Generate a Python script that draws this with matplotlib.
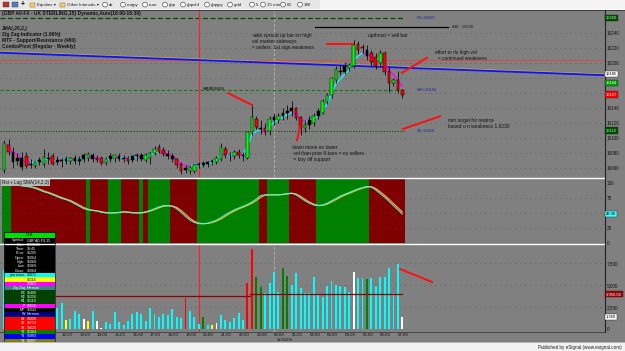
import numpy as np
import matplotlib.pyplot as plt
import matplotlib.transforms as mtransforms
from matplotlib.patches import Rectangle, Circle
from matplotlib.collections import LineCollection

plt.rcParams['font.family'] = ['Liberation Sans', 'DejaVu Sans']

# 15 min bars, GBP A0-FX, 12/30/09 08:45 -> 12/31/09 07:15 (hours relative to 00:00 12/31)
first_bar_hour = -15.25
opens = [16058, 16091, 16082, 16070, 16074, 16076, 16064, 16063, 16068, 16066,
         16074, 16076, 16068, 16071, 16070, 16070, 16073, 16070, 16072, 16074,
         16078, 16074, 16074, 16067, 16072, 16074, 16076, 16072, 16074, 16071,
         16076, 16078, 16071, 16074, 16080, 16088, 16084, 16079, 16076, 16072,
         16066, 16058, 16056, 16056, 16064, 16064, 16066, 16068, 16068, 16072,
         16086, 16077, 16076, 16082, 16078, 16074, 16108, 16126, 16114, 16114,
         16110, 16124, 16124, 16130, 16134, 16136, 16140, 16128, 16114, 16118,
         16120, 16130, 16134, 16148, 16157, 16178, 16190, 16188, 16194, 16196,
         16226, 16222, 16218, 16214, 16208, 16200, 16214, 16190, 16174, 16178,
         16164]
highs = [16097, 16099, 16088, 16080, 16082, 16082, 16072, 16070, 16075, 16085,
         16081, 16080, 16076, 16074, 16076, 16075, 16078, 16076, 16080, 16082,
         16080, 16078, 16076, 16075, 16080, 16078, 16080, 16078, 16076, 16078,
         16080, 16080, 16080, 16082, 16090, 16092, 16088, 16084, 16080, 16074,
         16068, 16064, 16064, 16066, 16068, 16070, 16070, 16072, 16076, 16094,
         16090, 16082, 16084, 16086, 16082, 16108, 16145, 16130, 16124, 16120,
         16130, 16134, 16134, 16140, 16144, 16150, 16142, 16130, 16124, 16130,
         16134, 16140, 16152, 16160, 16182, 16196, 16198, 16202, 16200, 16231,
         16230, 16226, 16224, 16218, 16214, 16218, 16216, 16196, 16180, 16190,
         16166]
lows = [16054, 16077, 16060, 16064, 16058, 16060, 16060, 16060, 16064, 16062,
        16066, 16064, 16064, 16062, 16066, 16066, 16066, 16064, 16068, 16070,
        16068, 16068, 16064, 16064, 16068, 16068, 16070, 16068, 16066, 16068,
        16070, 16070, 16068, 16066, 16078, 16080, 16076, 16072, 16068, 16060,
        16052, 16054, 16052, 16053, 16060, 16062, 16062, 16064, 16066, 16070,
        16074, 16070, 16072, 16074, 16070, 16072, 16104, 16112, 16106, 16104,
        16104, 16118, 16120, 16124, 16126, 16130, 16124, 16104, 16108, 16112,
        16116, 16126, 16132, 16146, 16154, 16174, 16184, 16186, 16190, 16194,
        16212, 16214, 16204, 16196, 16192, 16196, 16184, 16161, 16170, 16160,
        16153]
closes = [16093, 16082, 16068, 16074, 16062, 16063, 16066, 16068, 16071, 16075,
          16072, 16066, 16071, 16070, 16072, 16073, 16070, 16072, 16077, 16079,
          16072, 16071, 16067, 16072, 16076, 16077, 16072, 16074, 16070, 16076,
          16078, 16072, 16078, 16080, 16086, 16082, 16079, 16076, 16072, 16064,
          16056, 16060, 16062, 16064, 16064, 16067, 16068, 16070, 16074, 16088,
          16077, 16078, 16081, 16078, 16076, 16108, 16128, 16115, 16112, 16108,
          16126, 16128, 16130, 16134, 16136, 16140, 16127, 16114, 16118, 16124,
          16130, 16136, 16150, 16157, 16180, 16192, 16188, 16196, 16197, 16224,
          16218, 16220, 16210, 16202, 16196, 16214, 16188, 16174, 16178, 16164,
          16157]
candle_codes = ("grkkkrkgkg" "krkkkgkkkg" "krrgkgkkrk" "kkgggrrkkr" "rkggkkkkgg"
                "rkgrkggrkr" "gkgkkkrrgk" "gkggggkkgg" "rrkrrgrrgr" "r")

volumes = [6700, 3800, 2900, 2400, 2100, 2600, 1800, 1500, 2200, 2700,
           1900, 1600, 2400, 2950, 1000, 1150, 2050, 1700, 1150, 900,
           2050, 900, 100, 800, 570, 1930, 800, 450, 900, 1700,
           1930, 1700, 900, 2400, 1700, 1360, 1700, 1600, 2270, 1360,
           1250, 3520, 2050, 1360, 570, 1360, 450, 450, 680, 1590,
           1020, 800, 1250, 1820, 1020, 5230, 9090, 5910, 4770, 4090,
           5230, 6480, 4200, 6930, 6020, 5000, 6360, 4660, 4090, 4090,
           5910, 3860, 3640, 4890, 5450, 5000, 4890, 4770, 4200, 6480,
           5800, 5800, 5680, 5800, 4890, 5910, 5910, 6930, 4090, 7390,
           1360]
volume_codes = ("cccccccccc" "ccccycccwy" "cwwccccccc" "cccccccccc" "crcccgcywc"
                "cccccrrggc" "cccggccccc" "cccccccccw" "ccgccccccc" "w")
vol_avg_levels = [3750, 3950]      # session average before / after the break bar
vol_avg_break = 56

osc = [99, 98, 97, 96, 95, 94, 93, 91, 88, 85,
       83, 80, 77, 74, 72, 69, 65, 61, 57, 55,
       54, 53, 51, 50, 50, 50, 51, 52, 51, 50,
       50, 50, 52, 54, 57, 60, 62, 62, 61, 57,
       51, 44, 38, 34, 32, 32, 33, 35, 38, 42,
       47, 51, 55, 58, 61, 64, 68, 73, 79, 80,
       80, 80, 80, 81, 82, 83, 80, 75, 70, 66,
       63, 62, 63, 66, 70, 74, 78, 81, 84, 87,
       90, 92, 94, 93, 88, 82, 76, 69, 62, 55,
       48]
osc_bands = ("ggrrrrrrrr" "rrrrrrrrrg" "rrrrgggrrr" "rgrgggggrr" "rrrrgggggg"
             "ggggggggrr" "gggggrrrrr" "rggggggggg" "gggrrrrrrr" "r")

# levels
r3_level = 16260
abi_level = 16248
w_level = 16164
s1_level = 16110
red_level = 16204
pivot_line = [16215, 16185]          # ComboPivot at left / right edge
cursor_bar = 44                      # 19:45 cursor
time_ticks = list(range(-13, 8))

W, H = 625, 351
fig = plt.figure(figsize=(W / 100, H / 100), dpi=100)
fig.patch.set_facecolor('#808080')
GRAY = '#808080'


def px_axes(x0, y0, x1, y1, **kw):
    return fig.add_axes([x0 / W, 1 - y1 / H, (x1 - x0) / W, (y1 - y0) / H], **kw)


def hx(x):
    # pixel column -> hour
    return (x - 274) / 17.7


hours = first_bar_hour + 0.25 * np.arange(len(closes))
xl = (hx(0), hx(604))
fs = 3.5

# ---------------- price panel ----------------
ax = px_axes(0, 10, 604, 177)
ax.set_facecolor(GRAY)
ax.set_xlim(*xl)
ax.set_ylim(16048, 16270.7)
for s in ax.spines.values():
    s.set_visible(False)
ax.set_xticks([])
ax.yaxis.tick_right()
pticks = list(range(16060, 16241, 20))
# 16160 / 16180 sit under the price boxes, so no label there
ax.set_yticks(pticks)
ax.set_yticklabels(['' if p in (16160, 16180) else str(p) for p in pticks])
ax.tick_params(axis='y', length=0, pad=2, labelsize=3.3, labelcolor='#101010')
for p in pticks:
    ax.axhline(p, color='#505050', lw=0.6, ls=(0, (1, 5)), zorder=0)

ax.axhline(red_level, color='#d05050', lw=0.8, zorder=1)
ax.plot(xl, pivot_line, color='#c8b040', lw=1.0, zorder=2)
ax.plot(xl, [pivot_line[0] - 1.2, pivot_line[1] - 1.2], color='#1010ff', lw=1.3, zorder=2)
ax.plot([xl[0], hx(405)], [r3_level] * 2, color='#004d00', lw=0.9, ls=(0, (4, 2)), zorder=1)
ax.plot([hx(315), hx(448)], [abi_level] * 2, color='black', lw=0.9, zorder=1)
ax.plot([xl[0], hx(398)], [w_level] * 2, color='#008000', lw=0.8, ls=(0, (3, 2)), zorder=1)
ax.plot([xl[0], hx(405)], [s1_level] * 2, color='#004d00', lw=0.8, ls=(0, (1, 1.5)), zorder=1)
ax.text(hx(417), r3_level, f"R3={r3_level}", fontsize=2.9, color='#2020a0', va='center')
ax.text(hx(452), abi_level, f"ABI : {abi_level}", fontsize=2.9, color='#202020', va='center')
ax.text(hx(417), w_level, f"WH={w_level}", fontsize=2.9, color='#2020a0', va='center')
ax.text(hx(417), s1_level, f"S1={s1_level}", fontsize=2.9, color='#2020a0', va='center')

ax.axvline(0, color='#b0b0b0', lw=0.7, ls=(0, (3, 2)), zorder=1)
ax.axvline(hours[cursor_bar], color='#ff2020', lw=0.8, zorder=1)

# candles
body_col = {'g': '#00ff00', 'r': '#ff0000', 'k': '#000000'}
o = np.array(opens); c = np.array(closes)
ax.vlines(hours, lows, highs, color='black', lw=0.55, zorder=4)
ax.bar(hours, np.maximum(np.abs(c - o), 0.8), bottom=np.minimum(o, c), width=0.15,
       color=[body_col[k] for k in candle_codes], edgecolor='black', lw=0.35, zorder=5)

# JMA style smoothing line, cyan rising / magenta falling
jma = [closes[0]]
for v in closes[1:]:
    jma.append(jma[-1] + 0.4 * (v - jma[-1]))
jma = np.array(jma)
segs = [[(hours[i], jma[i]), (hours[i + 1], jma[i + 1])] for i in range(len(jma) - 1)]
cols = ['#00ffff' if jma[i + 1] >= jma[i] else '#ff00ff' for i in range(len(jma) - 1)]
ax.add_collection(LineCollection(segs, colors=cols, lw=1.0, zorder=3))

# annotations
red = '#ff1010'
ax.plot([hx(228), hx(252)], [16160, 16144], color=red, lw=1.4, zorder=6)
ax.plot([hx(327), hx(353)], [16225, 16225], color=red, lw=1.4, zorder=6)
ax.plot([hx(297), hx(300)], [16097, 16115], color=red, lw=1.4, zorder=6)
ax.plot([hx(402), hx(427)], [16187, 16207], color=red, lw=1.4, zorder=6)
ax.plot([hx(403), hx(440)], [16112, 16129], color=red, lw=1.4, zorder=6)
ak = dict(fontsize=fs, color='#111111', va='top', ha='left', linespacing=1.25, zorder=7)
ax.text(hx(202), 16170, "weakness", **ak)
ax.text(hx(252), 16240, "wide spread up bar on high\nvol market sideways\n= sellers  1st sign weakness", **ak)
ax.text(hx(368), 16240, "upthrust = sell bar", **ak)
ax.text(hx(435), 16217, "effort to rls high vol\n  = continued weakness", **ak)
ax.text(hx(292), 16091, "down move on lower\n vol than prior 8 bars = no sellers\n = buy off support", **ak)
ax.text(hx(448), 16127, "min target for reatrce\nbased o n weakness 1.6230", **ak)
ax.text(hx(2), 16269, "(GBP A0-FX - UK STERLING,15) Dynamic,Auto(16:00-16:30)",
        fontsize=fs, color='#111111', va='top', weight='bold')
ax.text(hx(2), 16250, "JMA(,20,2,)\nZig Zag Indicator (1.00%)\nMTF - Support/Resistance (480)\n"
        "ComboPivot (Regular - Weekly)", fontsize=fs, color='#111111', va='top',
        weight='bold', linespacing=1.25)

# ---------------- oscillator panel ----------------
ao = px_axes(0, 178, 604, 243)
ao.set_facecolor(GRAY)
ao.set_xlim(*xl)
ao.set_ylim(0, 108)
for s in ao.spines.values():
    s.set_visible(False)
ao.set_xticks([])
ao.yaxis.tick_right()
ao.set_yticks([0, 25, 50, 75, 100])
ao.set_yticklabels(['0', '25', '', '75', '100'])
ao.tick_params(axis='y', length=0, pad=2, labelsize=3.3, labelcolor='#101010')
ao.bar(hours, 108, width=0.25, bottom=0,
       color=['#008000' if b == 'g' else '#800000' for b in osc_bands], zorder=0)
for v in [25, 50, 75]:
    ao.axhline(v, color='#505050', lw=0.6, ls=(0, (1, 5)), zorder=1)
osc_lag = np.convolve(osc, [0.5, 0.5], mode='full')[:len(osc)]
osc_lag[0] = osc[0]
ao.plot(hours, osc_lag, color='#ffb020', lw=0.9, zorder=2)
ao.plot(hours, osc, color='#40ffff', lw=0.7, zorder=3)
ao.text(hx(2), 104, "Rsi + Lag SMA(14,2,3)", fontsize=3.3, color='#111111', va='top',
        bbox=dict(boxstyle='square,pad=0.2', fc='#b8b8b8', ec='none'))

# ---------------- volume panel ----------------
av = px_axes(0, 244, 604, 332)
av.set_facecolor(GRAY)
av.set_xlim(*xl)
av.set_ylim(-341, 9659)
for s in av.spines.values():
    s.set_visible(False)
av.spines['bottom'].set_visible(True)
av.spines['bottom'].set_color('#404040')
av.spines['bottom'].set_linewidth(0.6)
av.yaxis.tick_right()
av.set_yticks([0, 2500, 5000, 7500])
av.set_yticklabels(['0', '2,500', '5,000', '7,500'])
av.tick_params(axis='y', length=0, pad=2, labelsize=3.3, labelcolor='#101010')
for v in [2500, 5000, 7500]:
    av.axhline(v, color='#505050', lw=0.6, ls=(0, (1, 5)), zorder=0)
vcol = {'c': '#00ffff', 'r': '#ff0000', 'g': '#008000', 'w': '#ffffff', 'y': '#ffff00'}
av.bar(hours, volumes, width=0.11, color=[vcol[k] for k in volume_codes], zorder=3)
av.plot([hours[0], hours[vol_avg_break] - 0.12], [vol_avg_levels[0]] * 2, color='#900000', lw=0.9, zorder=4)
av.plot([hours[vol_avg_break] - 0.12, hours[-1]], [vol_avg_levels[1]] * 2, color='#900000', lw=0.9, zorder=4)
av.axvline(0, color='#b0b0b0', lw=0.7, ls=(0, (3, 2)), zorder=1)
av.axvline(hours[cursor_bar], color='#ff2020', lw=0.8, zorder=1)
av.plot([hx(400), hx(432)], [6818, 5341], color=red, lw=1.4, zorder=6)
av.set_xticks(time_ticks)
av.set_xticklabels([f"{h % 24:02d}:00" for h in time_ticks])
av.tick_params(axis='x', length=0, pad=0.4, labelsize=3.2, labelcolor='#101010')
for lbl in av.get_xticklabels():
    lbl.set_ha('left')
av.text(0.15, -1000, "12/31/09", fontsize=3.0, color='#101010', va='top', ha='left')

# ---------------- overlay: frame, toolbar, data window, boxes ----------------
ov = fig.add_axes([0, 0, 1, 1], zorder=10)
ov.set_xlim(0, W)
ov.set_ylim(H, 0)
ov.axis('off')
ov.patch.set_alpha(0)

ov.plot([0, 604], [177.5, 177.5], color='white', lw=1.0)
ov.plot([0, 604], [243.5, 243.5], color='white', lw=1.0)
ov.plot([604.5, 604.5], [10, 332], color='#202020', lw=0.8)

# toolbar
ov.add_patch(Rectangle((0, 0), W, 9, fc='#e6e6e6', ec='none'))
ov.add_patch(Rectangle((320, 0), W - 320, 9, fc='#f4f4f4', ec='none'))
ov.add_patch(Rectangle((0, 9), W, 1.2, fc='#fafafa', ec='none'))
ov.plot([0, W], [10.3, 10.3], color='#303030', lw=0.6)
ov.add_patch(Rectangle((3, 2), 6, 5, fc='#c03030', ec='#404040', lw=0.3))
ov.add_patch(Rectangle((12, 2), 6, 5, fc='#5080c0', ec='#404040', lw=0.3))
ov.text(23, 4.8, "+", fontsize=5, ha='center', va='center', weight='bold')
for fx, lab in [(30, "Equities \u25be"), (60, "Other Intervals \u25be")]:
    ov.add_patch(Rectangle((fx, 2.5), 5, 4, fc='#f0d060', ec='#806020', lw=0.3))
    ov.text(fx + 7, 4.8, lab, fontsize=3.2, va='center', color='#202020')
tool_items = ["dc", "eurjpy", "euro", "gbp", "gbpchf", "gbpjpy", "gold", "5", "15 min", "60", "180"]
tool_x = [105, 123, 145, 165, 183, 207, 230, 252, 263, 283, 300]
for tx, lab in zip(tool_x, tool_items):
    ov.add_patch(Circle((tx, 4.6), 2.4, fc='white', ec='#303030', lw=0.4))
    ov.text(tx + 4, 4.8, lab, fontsize=3.2, va='center', color='#202020')

# data window
dw_x0, dw_x1, dw_y = 4, 55, 232
rows = [("Symbol:", "GBP A0-FX,15", '#000000', 'white'),
        ("Date:", "12/30/09", '#000000', 'white'),
        ("Time:", "19:45", '#000000', 'white'),
        ("Price:", "16205", '#000000', 'white'),
        ("Open:", str(opens[cursor_bar]), '#000000', 'white'),
        ("High:", str(highs[cursor_bar]), '#000000', 'white'),
        ("Low:", str(lows[cursor_bar]), '#000000', 'white'),
        ("Close:", str(closes[cursor_bar]), '#000000', 'white'),
        ("jma wave", "16071", '#00ffff', 'black'),
        ("", "16116", '#ffff00', 'black'),
        ("", "16062", '#ff00ff', 'white'),
        ("Zig Zag", "Harmon", '#408080', 'white'),
        ("R3", "16400", '#004000', 'white'),
        ("R2", "16250", '#004000', 'white'),
        ("R1", "16110", '#004000', 'white'),
        ("P", "16016", '#ff00ff', 'white'),
        ("MP", "16043", '#000000', 'white'),
        ("W", "Harmon", '#000080', 'white'),
        ("S1", "15950", '#ff0000', 'white'),
        ("S2", "15714", '#ff0000', 'white'),
        ("S3", "15620", '#ff0000', 'white'),
        ("Y1", "16364", '#008000', 'white'),
        ("Y1", "15993", '#0000ff', 'white'),
        ("Y1", "16057", '#808000', 'white')]
ov.add_patch(Rectangle((dw_x0, dw_y), dw_x1 - dw_x0, 6, fc='#00e000', ec='black', lw=0.5))
ov.text((dw_x0 + dw_x1) / 2, dw_y + 3.2, "OHL", fontsize=2.8, ha='center', va='center')
yy = dw_y + 6
rh = 4.37
for lab, val, bg, fg in rows:
    ov.add_patch(Rectangle((dw_x0, yy), dw_x1 - dw_x0, rh, fc=bg, ec='none'))
    ov.text(dw_x0 + 21, yy + rh / 2, lab, fontsize=2.6, ha='right', va='center', color=fg)
    ov.text(dw_x0 + 23, yy + rh / 2, val, fontsize=2.6, ha='left', va='center', color=fg)
    yy += rh
ov.plot([dw_x0, dw_x0, dw_x1, dw_x1], [yy, dw_y, dw_y, yy], color='#202020', lw=0.5)


# right scale boxes
def right_box(axis, val, txt, fc, tc):
    tr = mtransforms.blended_transform_factory(fig.transFigure, axis.transData)
    ov.text(606 / W, val, txt, transform=tr, fontsize=3.0, color=tc, va='center', ha='left',
            clip_on=False, zorder=20,
            bbox=dict(boxstyle='square,pad=0.25', fc=fc, ec='#202020', lw=0.3))


right_box(ax, r3_level, str(r3_level), '#004d00', '#a0ffa0')
right_box(ax, pivot_line[1], str(pivot_line[1]), '#ffffff', '#000000')
right_box(ax, w_level + 9, str(w_level), '#00a000', '#ffffff')
right_box(ax, closes[-1] + 1, str(closes[-1]), '#ff0000', '#ffffff')
right_box(ax, s1_level, str(s1_level), '#004d00', '#a0ffa0')
right_box(ao, osc[-1], f"{osc[-1]:.2f}", '#40ffff', '#000000')
right_box(av, vol_avg_levels[1], f"{vol_avg_levels[1]:,.2f}", '#a00000', '#ffffff')
right_box(av, volumes[-1], f"{volumes[-1]:,}", '#ffffff', '#000000')

# bottom strip
ov.add_patch(Rectangle((0, 342), W, 9, fc='#f2f2f2', ec='none', zorder=30))
ov.plot([0, W], [342, 342], color='#a0a0a0', lw=0.5, zorder=31)
ov.text(622, 347, "Published by eSignal (www.esignal.com)", fontsize=3.3, ha='right',
        va='center', color='#202020', zorder=32)

fig.savefig('out.png', dpi=100, facecolor=fig.get_facecolor())
